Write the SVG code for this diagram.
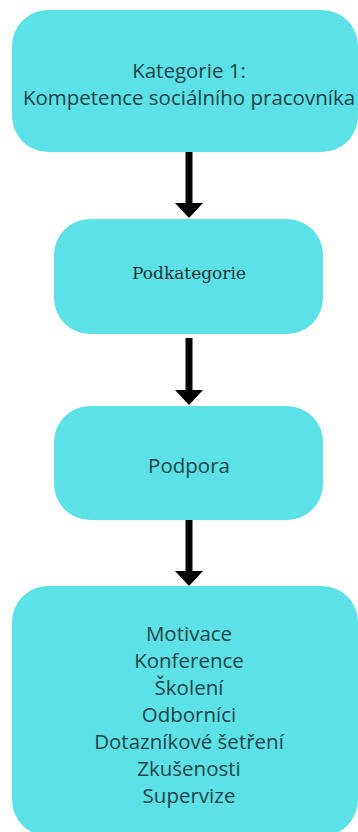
<svg xmlns="http://www.w3.org/2000/svg" width="358" height="832" viewBox="0 0 358 832">
<defs>
<style>
.box{fill:#5ce1e6}
.t{font-family:"Open Sans","Noto Sans",sans-serif;font-size:20.5px;fill:#1f4448;text-anchor:middle;dominant-baseline:central}
.s{font-family:"DejaVu Serif","Liberation Serif",serif;font-size:17px;fill:#1f3335;text-anchor:middle;dominant-baseline:central}
.shaft{stroke:#000;stroke-width:7;fill:none}
</style>
</defs>
<rect width="358" height="832" fill="#fff"/>
<g id="node1"><rect class="box" x="12" y="10" width="346" height="142" rx="36"/>
<text class="t" x="189" y="70">Kategorie 1:</text>
<text class="t" x="189" y="97">Kompetence sociálního pracovníka</text></g>
<g id="node2"><rect class="box" x="54" y="219" width="269" height="115" rx="36"/>
<text class="s" x="189" y="273">Podkategorie</text></g>
<g id="node3"><rect class="box" x="54" y="406" width="269" height="114" rx="36"/>
<text class="t" x="189" y="465">Podpora</text></g>
<g id="node4"><rect class="box" x="12" y="586" width="346" height="250" rx="36"/>
<text class="t" x="189" y="633">Motivace</text>
<text class="t" x="189" y="660">Konference</text>
<text class="t" x="189" y="687">Školení</text>
<text class="t" x="189" y="714">Odborníci</text>
<text class="t" x="189" y="741">Dotazníkové šetření</text>
<text class="t" x="189" y="768">Zkušenosti</text>
<text class="t" x="189" y="795">Supervize</text></g>
<g id="connectors">
<line class="shaft" x1="189" y1="152" x2="189" y2="205"/>
<polygon points="175,203 203,203 189,218"/>
<line class="shaft" x1="189" y1="338" x2="189" y2="392"/>
<polygon points="175,390 203,390 189,405"/>
<line class="shaft" x1="189" y1="520" x2="189" y2="573"/>
<polygon points="175,571 203,571 189,586"/>
</g>
</svg>
